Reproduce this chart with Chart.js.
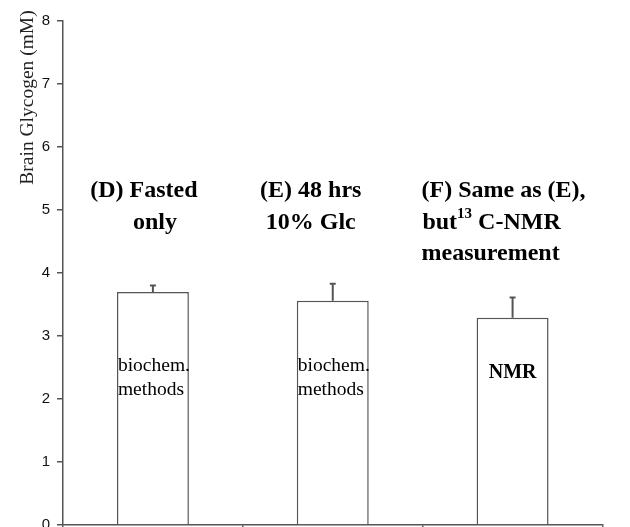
<!DOCTYPE html>
<html>
<head>
<meta charset="utf-8">
<script src="https://cdn.jsdelivr.net/npm/chart.js@4.4.0/dist/chart.umd.min.js"></script>
<style>
  html, body { margin: 0; padding: 0; background: #fff; }
  #wrap { width: 630px; height: 527px; }
</style>
</head>
<body>
<div id="wrap"><canvas id="glycogenChart"></canvas></div>
<script>
// Brain glycogen, values
const groups = ['D', 'E', 'F'];
const glycogen = [3.70, 3.56, 3.29];
const glycogenErr = [0.10, 0.27, 0.32];
const yTicks = [0, 1, 2, 3, 4, 5, 6, 7, 8];

// header text above each bar ("|" marks the superscript part)
const groupTitles = [
    ['(D) Fasted', 'only'],
    ['(E) 48 hrs', '10% Glc'],
    ['(F) Same as (E),', 'but|13|C-NMR', 'measurement']
];
const barNotes = [['biochem.', 'methods'], ['biochem.', 'methods'], ['NMR']];

const lineColor = '#555';
const serif = "'Liberation Serif', 'Times New Roman', serif";

// error bars (upper side only) with a small cap
const errorBars = {
    id: 'errorBars',
    afterDatasetsDraw(chart) {
        const ctx = chart.ctx;
        const y = chart.scales.y;
        const meta = chart.getDatasetMeta(0);
        ctx.save();
        ctx.strokeStyle = lineColor;
        ctx.lineWidth = 2;
        meta.data.forEach((bar, i) => {
            const top = y.getPixelForValue(glycogen[i] + glycogenErr[i]);
            ctx.beginPath();
            ctx.moveTo(bar.x, bar.y);
            ctx.lineTo(bar.x, top);
            ctx.moveTo(bar.x - 3, top);
            ctx.lineTo(bar.x + 3, top);
            ctx.stroke();
        });
        ctx.restore();
    }
};

// group headers, notes inside the bars and the y title
const labels = {
    id: 'labels',
    afterDraw(chart) {
        const ctx = chart.ctx;
        const x = chart.scales.x;
        const y = chart.scales.y;
        const meta = chart.getDatasetMeta(0);
        ctx.save();
        ctx.fillStyle = '#000';

        // headers
        const lineY = [5.31, 4.80, 4.31];
        const shift = [[-9, 2], [-22, -22], [-9, -21, -22]];
        ctx.textBaseline = 'middle';
        groupTitles.forEach((lines, i) => {
            const cx = x.getPixelForValue(i);
            lines.forEach((line, j) => {
                const px = cx + shift[i][j];
                const py = y.getPixelForValue(lineY[j]);
                if (line.includes('|')) {
                    const [a, sup, b] = line.split('|');
                    const big = 'bold 24px ' + serif;
                    const small = 'bold 15px ' + serif;
                    ctx.font = big;
                    const wa = ctx.measureText(a).width;
                    const wb = ctx.measureText(' ' + b).width;
                    ctx.font = small;
                    const ws = ctx.measureText(sup).width;
                    let sx = px - (wa + ws + wb) / 2;
                    ctx.textAlign = 'left';
                    ctx.font = big;
                    ctx.fillText(a, sx, py);
                    ctx.font = small;
                    ctx.fillText(sup, sx + wa, py - 8);
                    ctx.font = big;
                    ctx.fillText(' ' + b, sx + wa + ws, py);
                } else {
                    ctx.font = 'bold 24px ' + serif;
                    ctx.textAlign = 'center';
                    ctx.fillText(line, px, py);
                }
            });
        });

        // notes inside the bars
        barNotes.forEach((notes, i) => {
            const bar = meta.data[i];
            if (notes.length === 1) {
                ctx.font = 'bold 20px ' + serif;
                ctx.textAlign = 'center';
                ctx.fillText(notes[0], bar.x, y.getPixelForValue(2.42));
            } else {
                ctx.font = '19.5px ' + serif;
                ctx.textAlign = 'left';
                const left = bar.x - bar.width / 2 + 1;
                ctx.fillText(notes[0], left, y.getPixelForValue(2.53));
                ctx.fillText(notes[1], left, y.getPixelForValue(2.15));
            }
        });

        // y axis title, sits high up along the axis
        ctx.translate(33, 97.5);
        ctx.rotate(-Math.PI / 2);
        ctx.font = '19.5px ' + serif;
        ctx.textAlign = 'center';
        ctx.textBaseline = 'alphabetic';
        ctx.fillStyle = '#222';
        ctx.fillText('Brain Glycogen (mM)', 0, 0);
        ctx.restore();
    }
};

new Chart(document.getElementById('glycogenChart'), {
    type: 'bar',
    data: {
        labels: groups,
        datasets: [{
            data: glycogen,
            backgroundColor: '#fff',
            borderColor: lineColor,
            borderWidth: 1.5,
            categoryPercentage: 1,
            barPercentage: 0.4
        }]
    },
    options: {
        responsive: true,
        maintainAspectRatio: false,
        animation: false,
        layout: { padding: { top: 21, right: 27.5, left: 0, bottom: 0 } },
        plugins: {
            legend: { display: false },
            tooltip: { enabled: false }
        },
        scales: {
            x: {
                offset: true,
                grid: { offset: true, drawOnChartArea: false, tickLength: 4, color: lineColor, lineWidth: 1.5 },
                border: { color: lineColor, width: 1.5 },
                ticks: { display: false },
                afterFit: s => { s.height = 2; }
            },
            y: {
                min: 0,
                max: 8,
                afterBuildTicks: s => { s.ticks = yTicks.map(v => ({ value: v })); },
                grid: { drawOnChartArea: false, tickLength: 6, color: lineColor, lineWidth: 1.5 },
                border: { color: lineColor, width: 1.5 },
                ticks: {
                    padding: 7,
                    color: '#111',
                    font: { family: "'Liberation Sans', Arial, sans-serif", size: 15 }
                },
                // no extra room for the half-cut "0" label at the bottom
                afterFit: s => { s.width = 63; s.paddingTop = 0; s.paddingBottom = 0; }
            }
        }
    },
    plugins: [errorBars, labels]
});
</script>
</body>
</html>
